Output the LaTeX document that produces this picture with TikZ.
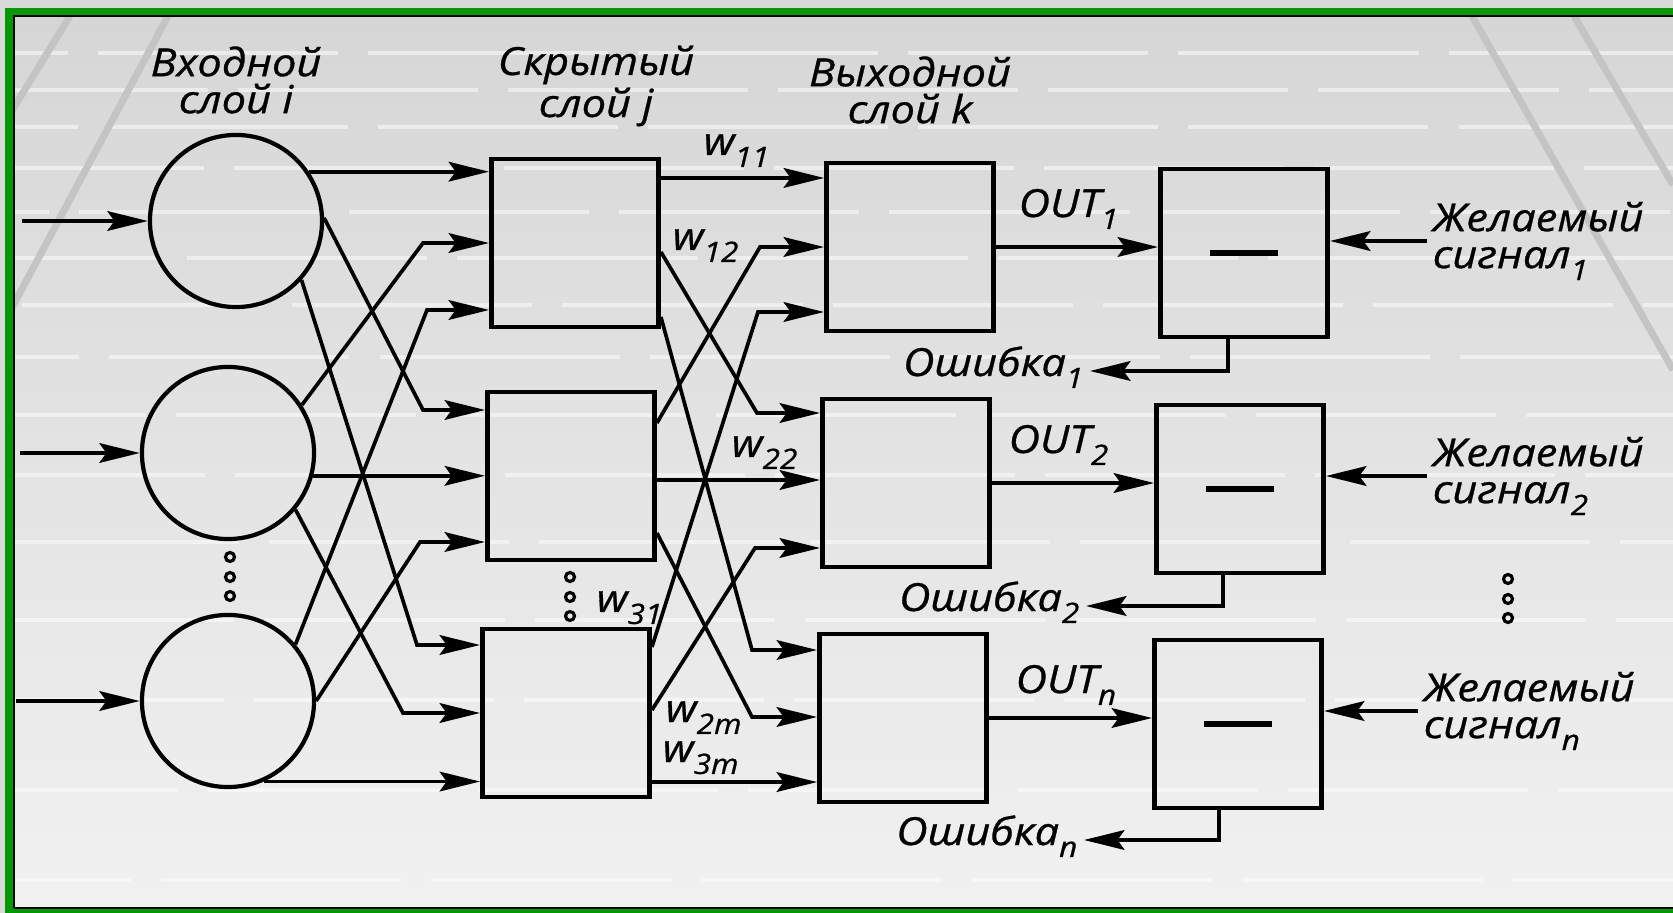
\documentclass[tikz,border=0pt]{standalone}
\usepackage{fontspec}
\newfontfamily\gost{Open Sans}[FakeStretch=1.12, FakeBold=0.8]
\usetikzlibrary{arrows.meta}
\newcommand\sbs[1]{\raisebox{-3.4pt}{\fontsize{8}{8}\selectfont #1}}
\definecolor{bgouter}{RGB}{217,217,217}
\definecolor{bgtop}{RGB}{214,214,214}
\definecolor{bgbot}{RGB}{241,241,241}
\definecolor{frameg}{RGB}{0,153,0}
\definecolor{diagc}{RGB}{196,196,196}
\begin{document}
\begin{tikzpicture}[x=0.01cm, y=-0.01cm,
  neuron/.style={circle, draw, line width=1.2pt, minimum size=1.72cm, inner sep=0pt},
  blk/.style={rectangle, draw, line width=1.35pt, minimum width=1.67cm, minimum height=1.68cm, inner sep=0pt},
  conn/.style={line width=1.05pt, -{Stealth[length=11.5pt,width=5.6pt,inset=2pt]}},
  lbl/.style={font=\gost\itshape\fontsize{11}{10.5}\selectfont, inner sep=0pt, align=left},
  dotc/.style={circle, draw, line width=0.9pt, minimum size=0.09cm, inner sep=0pt},
  minus/.style={line width=1.5pt},
  stripe/.style={white, opacity=0.5, line width=1.3pt, dash pattern=on 2.4cm off 0.3cm},
  diagl/.style={diagc, line width=2pt}]
\useasboundingbox (0,0) rectangle (1673,913);
% background
\fill[bgouter] (0,0) rectangle (1673,913);
\begin{scope}
  \clip (14,16) rectangle (1673,908);
  \shade[top color=bgtop, bottom color=bgbot] (14,16) rectangle (1673,908);
  \foreach \yy in {53,90,127,168,212,258,305,357,415,475,542,620,700,790,880}
    \draw[stripe, dash phase=\yy pt] (14,\yy) -- (1673,\yy);
  \draw[diagl] (168,16) -- (0,330);
  \draw[diagl] (70,16) -- (0,130);
  \draw[diagl] (1472,16) -- (1673,370);
  \draw[diagl] (1574,16) -- (1673,185);
\end{scope}
% frame
\fill[frameg] (5,8) rectangle (1673,16);
\fill[frameg] (5,8) rectangle (14,913);
\fill[frameg] (5,908) rectangle (1673,913);
\draw[black, line width=0.5pt] (14,908) -- (14,16) -- (1673,16);
\draw[black, line width=0.5pt] (14,908) -- (1673,908);

% layer titles
\node[lbl, align=center] (tin) at (236,80) {Входной\\слой i};
\node[lbl, align=center] (thid) at (596,86) {Скрытый\\слой j};
\node[lbl, align=center] (tout) at (910,90) {Выходной\\слой k};

% input neurons
\node[neuron] (c1) at (236,221) {};
\node[neuron] (c2) at (228,453) {};
\node[neuron] (c3) at (228,701) {};
% hidden
\node[blk] (H1) at (575,243) {};
\node[blk] (H2) at (571,476) {};
\node[blk] (H3) at (566,713) {};
% output
\node[blk] (O1) at (910,247) {};
\node[blk] (O2) at (906,483) {};
\node[blk] (O3) at (903,718) {};
% subtractors
\node[blk] (S1) at (1244,253) {};
\node[blk] (S2) at (1240,489) {};
\node[blk] (S3) at (1238,724) {};
\draw[minus] ([xshift=-0.34cm]S1.center) -- ([xshift=0.34cm]S1.center);
\draw[minus] ([xshift=-0.34cm]S2.center) -- ([xshift=0.34cm]S2.center);
\draw[minus] ([xshift=-0.34cm]S3.center) -- ([xshift=0.34cm]S3.center);

% ellipsis dots
\node[dotc] (v1) at (230,557) {};
\node[dotc] (v2) at (230,577) {};
\node[dotc] (v3) at (230,596) {};
\node[dotc] (v4) at (570,577) {};
\node[dotc] (v5) at (570,597) {};
\node[dotc] (v6) at (570,616) {};
\node[dotc] (v7) at (1508,579) {};
\node[dotc] (v8) at (1508,599) {};
\node[dotc] (v9) at (1508,618) {};

% external inputs
\coordinate (x1) at (22,221);
\coordinate (x2) at (20,453);
\coordinate (x3) at (16,701);
\draw[conn] (x1) -- (c1.west);
\draw[conn] (x2) -- (c2.west);
\draw[conn] (x3) -- (c3.west);

% input -> hidden
\coordinate (b21) at (423,410);
\coordinate (b31) at (417,645);
\coordinate (b12) at (423,243);
\coordinate (b32) at (403,713);
\coordinate (b13) at (427,310);
\coordinate (b23) at (420,542);
\draw[conn] (c1.34) -- (c1.34 -| H1.west);
\draw[conn] (c1.2) -- (b21) -- (b21 -| H2.west);
\draw[conn] (c1.-42) -- (b31) -- (b31 -| H3.west);
\draw[conn] (c2.33) -- (b12) -- (b12 -| H1.west);
\draw[conn] (c2.-15) -- (c2.-15 -| H2.west);
\draw[conn] (c2.-40) -- (b32) -- (b32 -| H3.west);
\draw[conn] (c3.40) -- (b13) -- (b13 -| H1.west);
\draw[conn] (c3.0) -- (b23) -- (b23 -| H2.west);
\draw[conn] (c3.-66) -- (c3.-66 -| H3.west);

% hidden -> output
\coordinate (h11) at ([yshift=0.65cm]H1.east);
\coordinate (h12) at ([yshift=-0.09cm]H1.east);
\coordinate (h13) at ([yshift=-0.74cm]H1.east);
\coordinate (h21) at ([yshift=0.53cm]H2.east);
\coordinate (h22) at ([yshift=-0.04cm]H2.east);
\coordinate (h23) at ([yshift=-0.57cm]H2.east);
\coordinate (h31) at ([yshift=0.66cm]H3.east);
\coordinate (h32) at ([yshift=0.03cm]H3.east);
\coordinate (h33) at ([yshift=-0.69cm]H3.east);
\coordinate (k21) at (757,413);
\coordinate (k31) at (752,650);
\coordinate (k12) at (760,247);
\coordinate (k32) at (752,717);
\coordinate (k13) at (758,312);
\coordinate (k23) at (755,548);
\draw[conn] (h11) -- (h11 -| O1.west);
\draw[conn] (h12) -- (k21) -- (k21 -| O2.west);
\draw[conn] (h13) -- (k31) -- (k31 -| O3.west);
\draw[conn] (h21) -- (k12) -- (k12 -| O1.west);
\draw[conn] (h22) -- (h22 -| O2.west);
\draw[conn] (h23) -- (k32) -- (k32 -| O3.west);
\draw[conn] (h31) -- (k13) -- (k13 -| O1.west);
\draw[conn] (h32) -- (k23) -- (k23 -| O2.west);
\draw[conn] (h33) -- (h33 -| O3.west);

% weight labels
\node[lbl, anchor=base west] (w11) at (703,155) {w\sbs{11}};
\node[lbl, anchor=base west] (w12) at (672,250) {w\sbs{12}};
\node[lbl, anchor=base west] (w22) at (731,457) {w\sbs{22}};
\node[lbl, anchor=base west] (w31) at (596,612) {w\sbs{31}};
\node[lbl, anchor=base west] (w2m) at (665,722) {w\sbs{2m}};
\node[lbl, anchor=base west] (w3m) at (662,762) {w\sbs{3m}};

% output -> subtractor
\draw[conn] (O1.east) -- (O1.east -| S1.west);
\draw[conn] (O2.east) -- (O2.east -| S2.west);
\draw[conn] (O3.east) -- (O3.east -| S3.west);
\node[lbl, anchor=base west] (out1) at (1018,217) {OUT\sbs{1}};
\node[lbl, anchor=base west] (out2) at (1008,453) {OUT\sbs{2}};
\node[lbl, anchor=base west] (outn) at (1015,693) {OUT\sbs{n}};

% desired signals
\node[lbl, anchor=west] (d1) at (1432,241) {Желаемый\\сигнал\sbs{1}};
\node[lbl, anchor=west] (d2) at (1432,476) {Желаемый\\сигнал\sbs{2}};
\node[lbl, anchor=west] (dn) at (1423,711) {Желаемый\\сигнал\sbs{n}};
\draw[conn] ([xshift=-0.05cm]d1.west) -- (d1.west -| S1.east);
\draw[conn] ([xshift=-0.05cm]d2.west) -- (d2.west -| S2.east);
\draw[conn] ([xshift=-0.05cm]dn.west) -- (dn.west -| S3.east);

% errors
\node[lbl, anchor=base east] (e1) at (1084,376) {Ошибка\sbs{1}};
\node[lbl, anchor=base east] (e2) at (1080,611) {Ошибка\sbs{2}};
\node[lbl, anchor=base east] (en) at (1078,845) {Ошибка\sbs{n}};
\draw[conn] ([xshift=-0.16cm]S1.south) |- ([xshift=0.06cm,yshift=0.05cm]e1.base east);
\draw[conn] ([xshift=-0.17cm]S2.south) |- ([xshift=0.06cm,yshift=0.05cm]e2.base east);
\draw[conn] ([xshift=-0.19cm]S3.south) |- ([xshift=0.06cm,yshift=0.05cm]en.base east);
\end{tikzpicture}
\end{document}
